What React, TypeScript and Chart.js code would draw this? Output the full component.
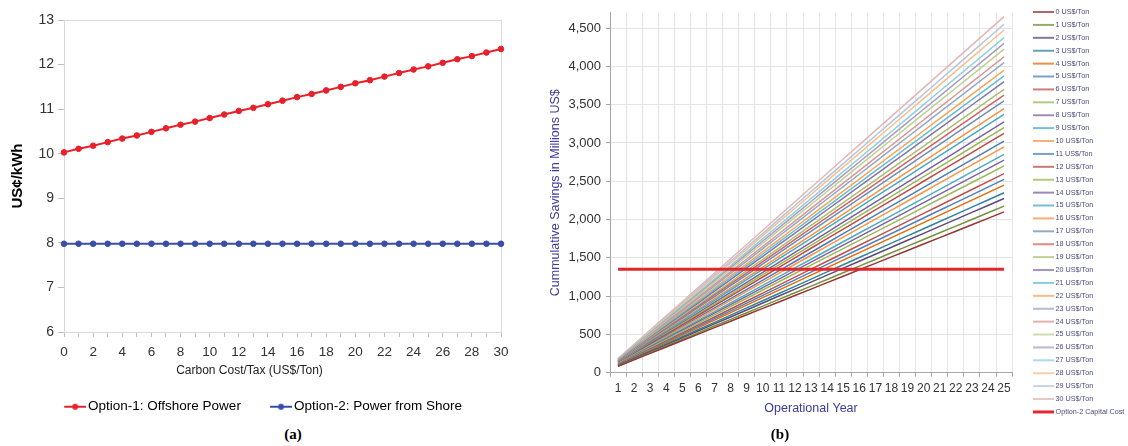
import React, { useEffect, useRef } from 'react';
import { Chart, registerables } from 'chart.js';

Chart.register(...registerables);

const FONT = "'Liberation Sans', Arial, sans-serif";

// ---------- Chart (a) data ----------
const carbonCost = ['0','1','2','3','4','5','6','7','8','9','10','11','12','13','14','15','16','17','18','19','20','21','22','23','24','25','26','27','28','29','30'];
const option1Cost = [10.03, 10.11, 10.18, 10.26, 10.34, 10.41, 10.49, 10.57, 10.65, 10.72, 10.80, 10.88, 10.96, 11.03, 11.11, 11.19, 11.27, 11.34, 11.42, 11.50, 11.58, 11.65, 11.73, 11.81, 11.89, 11.96, 12.04, 12.12, 12.19, 12.27, 12.35];
const option2Cost = [7.98, 7.98, 7.98, 7.98, 7.98, 7.98, 7.98, 7.98, 7.98, 7.98, 7.98, 7.98, 7.98, 7.98, 7.98, 7.98, 7.98, 7.98, 7.98, 7.98, 7.98, 7.98, 7.98, 7.98, 7.98, 7.98, 7.98, 7.98, 7.98, 7.98, 7.98];
const leftSeriesNames = ['Option-1: Offshore Power', 'Option-2: Power from Shore'];
const leftTicksY = [6, 13];

// ---------- Chart (b) data ----------
const years = ['1','2','3','4','5','6','7','8','9','10','11','12','13','14','15','16','17','18','19','20','21','22','23','24','25'];
const carbonLevels = ['0 US$/Ton','1 US$/Ton','2 US$/Ton','3 US$/Ton','4 US$/Ton','5 US$/Ton','6 US$/Ton','7 US$/Ton','8 US$/Ton','9 US$/Ton','10 US$/Ton','11 US$/Ton','12 US$/Ton','13 US$/Ton','14 US$/Ton','15 US$/Ton','16 US$/Ton','17 US$/Ton','18 US$/Ton','19 US$/Ton','20 US$/Ton','21 US$/Ton','22 US$/Ton','23 US$/Ton','24 US$/Ton','25 US$/Ton','26 US$/Ton','27 US$/Ton','28 US$/Ton','29 US$/Ton','30 US$/Ton'];
const savings0 = [84,168,252,336,420,504,588,672,756,840,924,1008,1092,1176,1260,1344,1428,1512,1596,1680,1764,1848,1932,2016,2100];
const savings1 = [87,174,261,348,435,522,609,696,783,870,957,1044,1131,1218,1305,1392,1479,1566,1653,1740,1827,1914,2001,2088,2175];
const savings2 = [91,182,273,364,455,546,637,728,819,910,1001,1092,1183,1274,1365,1456,1547,1638,1729,1820,1911,2002,2093,2184,2275];
const savings3 = [94,188,282,376,470,564,658,752,846,940,1034,1128,1222,1316,1410,1504,1598,1692,1786,1880,1974,2068,2162,2256,2350];
const savings4 = [98,196,294,392,490,588,686,784,882,980,1078,1176,1274,1372,1470,1568,1666,1764,1862,1960,2058,2156,2254,2352,2450];
const savings5 = [101,202,303,404,505,606,707,808,909,1010,1111,1212,1313,1414,1515,1616,1717,1818,1919,2020,2121,2222,2323,2424,2525];
const savings6 = [104,208,312,416,520,624,728,832,936,1040,1144,1248,1352,1456,1560,1664,1768,1872,1976,2080,2184,2288,2392,2496,2600];
const savings7 = [108,216,324,432,540,648,756,864,972,1080,1188,1296,1404,1512,1620,1728,1836,1944,2052,2160,2268,2376,2484,2592,2700];
const savings8 = [111,222,333,444,555,666,777,888,999,1110,1221,1332,1443,1554,1665,1776,1887,1998,2109,2220,2331,2442,2553,2664,2775];
const savings9 = [114,228,342,456,570,684,798,912,1026,1140,1254,1368,1482,1596,1710,1824,1938,2052,2166,2280,2394,2508,2622,2736,2850];
const savings10 = [118,236,354,472,590,708,826,944,1062,1180,1298,1416,1534,1652,1770,1888,2006,2124,2242,2360,2478,2596,2714,2832,2950];
const savings11 = [121,242,363,484,605,726,847,968,1089,1210,1331,1452,1573,1694,1815,1936,2057,2178,2299,2420,2541,2662,2783,2904,3025];
const savings12 = [125,250,375,500,625,750,875,1000,1125,1250,1375,1500,1625,1750,1875,2000,2125,2250,2375,2500,2625,2750,2875,3000,3125];
const savings13 = [128,256,384,512,640,768,896,1024,1152,1280,1408,1536,1664,1792,1920,2048,2176,2304,2432,2560,2688,2816,2944,3072,3200];
const savings14 = [131,262,393,524,655,786,917,1048,1179,1310,1441,1572,1703,1834,1965,2096,2227,2358,2489,2620,2751,2882,3013,3144,3275];
const savings15 = [135,270,405,540,675,810,945,1080,1215,1350,1485,1620,1755,1890,2025,2160,2295,2430,2565,2700,2835,2970,3105,3240,3375];
const savings16 = [138,276,414,552,690,828,966,1104,1242,1380,1518,1656,1794,1932,2070,2208,2346,2484,2622,2760,2898,3036,3174,3312,3450];
const savings17 = [142,284,426,568,710,852,994,1136,1278,1420,1562,1704,1846,1988,2130,2272,2414,2556,2698,2840,2982,3124,3266,3408,3550];
const savings18 = [145,290,435,580,725,870,1015,1160,1305,1450,1595,1740,1885,2030,2175,2320,2465,2610,2755,2900,3045,3190,3335,3480,3625];
const savings19 = [148,296,444,592,740,888,1036,1184,1332,1480,1628,1776,1924,2072,2220,2368,2516,2664,2812,2960,3108,3256,3404,3552,3700];
const savings20 = [152,304,456,608,760,912,1064,1216,1368,1520,1672,1824,1976,2128,2280,2432,2584,2736,2888,3040,3192,3344,3496,3648,3800];
const savings21 = [155,310,465,620,775,930,1085,1240,1395,1550,1705,1860,2015,2170,2325,2480,2635,2790,2945,3100,3255,3410,3565,3720,3875];
const savings22 = [158,316,474,632,790,948,1106,1264,1422,1580,1738,1896,2054,2212,2370,2528,2686,2844,3002,3160,3318,3476,3634,3792,3950];
const savings23 = [162,324,486,648,810,972,1134,1296,1458,1620,1782,1944,2106,2268,2430,2592,2754,2916,3078,3240,3402,3564,3726,3888,4050];
const savings24 = [165,330,495,660,825,990,1155,1320,1485,1650,1815,1980,2145,2310,2475,2640,2805,2970,3135,3300,3465,3630,3795,3960,4125];
const savings25 = [169,338,507,676,845,1014,1183,1352,1521,1690,1859,2028,2197,2366,2535,2704,2873,3042,3211,3380,3549,3718,3887,4056,4225];
const savings26 = [172,344,516,688,860,1032,1204,1376,1548,1720,1892,2064,2236,2408,2580,2752,2924,3096,3268,3440,3612,3784,3956,4128,4300];
const savings27 = [175,350,525,700,875,1050,1225,1400,1575,1750,1925,2100,2275,2450,2625,2800,2975,3150,3325,3500,3675,3850,4025,4200,4375];
const savings28 = [179,358,537,716,895,1074,1253,1432,1611,1790,1969,2148,2327,2506,2685,2864,3043,3222,3401,3580,3759,3938,4117,4296,4475];
const savings29 = [182,364,546,728,910,1092,1274,1456,1638,1820,2002,2184,2366,2548,2730,2912,3094,3276,3458,3640,3822,4004,4186,4368,4550];
const savings30 = [186,372,558,744,930,1116,1302,1488,1674,1860,2046,2232,2418,2604,2790,2976,3162,3348,3534,3720,3906,4092,4278,4464,4650];
const savingsSeries = [savings0, savings1, savings2, savings3, savings4, savings5, savings6, savings7, savings8, savings9, savings10, savings11, savings12, savings13, savings14, savings15, savings16, savings17, savings18, savings19, savings20, savings21, savings22, savings23, savings24, savings25, savings26, savings27, savings28, savings29, savings30];
const capitalCostName = 'Option-2 Capital Cost';
const capitalCost = [1350,1350,1350,1350,1350,1350,1350,1350,1350,1350,1350,1350,1350,1350,1350,1350,1350,1350,1350,1350,1350,1350,1350,1350,1350];
const rightRangeY = [0, 4700];
const rightTickValues = [0, 500, 1000, 1500, 2000, 2500, 3000, 3500, 4000, 4500];

// ---------- styles ----------
const RED = '#E8202A';
const BLUE = '#3A4DA8';
const CAP_RED = '#E3262B';
const AXIS_BLUE = '#3B3B9B';
const LEGEND_TEXT = '#4B4B7D';
const seriesColors = ['#943634','#76923C','#5F497A','#31849B','#E36C09','#4F81BD','#C0504D','#9BBB59','#8064A2','#4BACC6','#F79646','#4A7EBB','#BE4B48','#98B954','#7D60A0','#46AAC5','#F69240','#6F8DB8','#D06464','#A8C070','#8574AC','#62BED6','#F8A456','#92A9C9','#D99694','#BCD291','#AC9CC4','#90CFDF','#F9BE8C','#B3C5DE','#E3B5B4'];

function lineSymbol(width: number, from: number, height: number, color: string, lw: number, dot: boolean) {
  const c = document.createElement('canvas');
  c.width = width;
  c.height = height;
  const g = c.getContext('2d')!;
  g.strokeStyle = color;
  g.lineWidth = lw;
  g.beginPath();
  g.moveTo(from, height / 2);
  g.lineTo(width, height / 2);
  g.stroke();
  if (dot) {
    g.fillStyle = color;
    g.beginPath();
    g.arc((from + width) / 2, height / 2, 3, 0, Math.PI * 2);
    g.fill();
  }
  return c;
}

const framePlugin = {
  id: 'plotFrame',
  beforeDatasetsDraw(chart: any) {
    const { ctx, chartArea: a } = chart;
    ctx.save();
    ctx.strokeStyle = '#D9D9D9';
    ctx.lineWidth = 1;
    ctx.strokeRect(Math.round(a.left) + 0.5, Math.round(a.top) + 0.5, Math.round(a.width), Math.round(a.height));
    ctx.restore();
  },
};

export default function App() {
  const leftRef = useRef<HTMLCanvasElement>(null);
  const rightRef = useRef<HTMLCanvasElement>(null);

  useEffect(() => {
    const leftColors = [RED, BLUE];
    const leftSymbols = leftColors.map((c) => lineSymbol(46, 24, 10, c, 2, true));
    const left = new Chart(leftRef.current!, {
      type: 'line',
      data: {
        labels: carbonCost,
        datasets: [
          { label: leftSeriesNames[0], data: option1Cost, borderColor: RED, backgroundColor: RED, borderWidth: 2, pointRadius: 2.8, pointBorderWidth: 1, pointBackgroundColor: RED, pointBorderColor: RED },
          { label: leftSeriesNames[1], data: option2Cost, borderColor: BLUE, backgroundColor: BLUE, borderWidth: 2, pointRadius: 2.8, pointBorderWidth: 1, pointBackgroundColor: BLUE, pointBorderColor: BLUE },
        ],
      },
      options: {
        animation: false,
        responsive: false,
        layout: { padding: { left: 6, right: 39, top: 20, bottom: 0.5 } },
        plugins: {
          tooltip: { enabled: false },
          legend: {
            position: 'bottom',
            labels: {
              usePointStyle: true,
              pointStyleWidth: 36.25,
              padding: 10,
              color: '#111',
              font: { family: FONT, size: 13.5 },
              generateLabels: (chart: any) =>
                chart.data.datasets.map((ds: any, i: number) => ({
                  text: ds.label,
                  pointStyle: leftSymbols[i],
                  fillStyle: ds.borderColor,
                  strokeStyle: ds.borderColor,
                  lineWidth: 0,
                  hidden: !chart.isDatasetVisible(i),
                  datasetIndex: i,
                })),
            },
          },
        },
        scales: {
          x: {
            grid: { drawOnChartArea: false, drawTicks: true, tickLength: 5, color: '#BFBFBF' },
            border: { color: '#BFBFBF' },
            ticks: {
              autoSkip: false,
              maxRotation: 0,
              padding: 7,
              color: '#333',
              font: { family: FONT, size: 13.5 },
              callback: (_v: any, i: number) => (i % 2 === 0 ? carbonCost[i] : ''),
            },
            afterFit: (s: any) => { s.height = 58; },
          },
          y: {
            min: leftTicksY[0],
            max: leftTicksY[1],
            ticks: { stepSize: 1, padding: 4, color: '#333', font: { family: FONT, size: 14 } },
            grid: { drawOnChartArea: false, tickLength: 6, color: '#BFBFBF' },
            border: { color: '#BFBFBF' },
            title: { display: true, text: 'US¢/kWh', color: '#000', font: { family: FONT, size: 15, weight: 'bold' }, padding: { top: 3, bottom: 0 } },
            afterFit: (s: any) => { s.width = 58; },
          },
        },
      },
      plugins: [framePlugin],
    } as any);

    const allColors = [...seriesColors, CAP_RED];
    const rightSymbols = allColors.map((c, i) => lineSymbol(38, 17, 6, c, i === seriesColors.length ? 3 : 1.5, false));
    const datasets: any[] = savingsSeries.map((row, i) => ({
      label: carbonLevels[i],
      data: row,
      borderColor: seriesColors[i],
      backgroundColor: seriesColors[i],
      borderWidth: 1.5,
      pointRadius: 0,
      order: 1,
    }));
    datasets.push({ label: capitalCostName, data: capitalCost, borderColor: CAP_RED, backgroundColor: CAP_RED, borderWidth: 3, pointRadius: 0, order: 0 });

    const right = new Chart(rightRef.current!, {
      type: 'line',
      data: { labels: years, datasets },
      options: {
        animation: false,
        responsive: false,
        layout: { padding: { left: 0, right: 0.7, top: 2.7, bottom: 0 } },
        plugins: {
          tooltip: { enabled: false },
          title: { display: true, text: '', font: { size: 1 }, padding: { top: 8.6, bottom: 0 } },
          legend: {
            position: 'right',
            align: 'start',
            labels: {
              usePointStyle: true,
              pointStyleWidth: 34.2,
              padding: 5.7,
              color: LEGEND_TEXT,
              font: { family: FONT, size: 7.2 },
              generateLabels: (chart: any) =>
                chart.data.datasets.map((ds: any, i: number) => ({
                  text: ds.label,
                  pointStyle: rightSymbols[i],
                  fillStyle: ds.borderColor,
                  strokeStyle: ds.borderColor,
                  lineWidth: 0,
                  hidden: !chart.isDatasetVisible(i),
                  datasetIndex: i,
                  fontColor: LEGEND_TEXT,
                })),
            },
          },
        },
        scales: {
          x: {
            offset: true,
            grid: { offset: true, color: '#E4E4E4', tickColor: '#A6A6A6', tickLength: 4 },
            border: { color: '#A6A6A6' },
            ticks: { autoSkip: false, maxRotation: 0, padding: 5, color: '#333', font: { family: FONT, size: 12 } },
            title: { display: true, text: 'Operational Year', color: AXIS_BLUE, font: { family: FONT, size: 12.5 }, padding: { top: 4, bottom: 29.5 } },
            afterFit: (s: any) => { s.height = 73.3; },
          },
          y: {
            min: rightRangeY[0],
            max: rightRangeY[1],
            afterBuildTicks: (s: any) => { s.ticks = rightTickValues.map((v) => ({ value: v })); },
            ticks: {
              padding: 5,
              color: '#333',
              font: { family: FONT, size: 13 },
              callback: (v: any) => Number(v).toLocaleString('en-US'),
            },
            grid: { color: '#E4E4E4', tickColor: '#A6A6A6', tickLength: 4 },
            border: { color: '#A6A6A6' },
            title: { display: true, text: 'Cummulative Savings in Millions US$', color: AXIS_BLUE, font: { family: FONT, size: 12.5 }, padding: { top: 8.5, bottom: 0 } },
            afterFit: (s: any) => { s.width = 70; },
          },
        },
      },
    } as any);

    return () => {
      left.destroy();
      right.destroy();
    };
  }, []);

  return (
    <div style={{ position: 'fixed', left: 0, top: 0, width: 1128, height: 446, overflow: 'hidden', background: '#fff' }}>
      <canvas ref={leftRef} width={540} height={424} style={{ position: 'absolute', left: 0, top: 0, width: 540, height: 424 }} />
      <canvas ref={rightRef} width={595} height={446} style={{ position: 'absolute', left: 540, top: 0, width: 595, height: 446 }} />
      <div style={{ position: 'absolute', left: 149.5, width: 200, top: 363, textAlign: 'center', font: `12px ${FONT}`, color: '#222', whiteSpace: 'nowrap' }}>Carbon Cost/Tax (US$/Ton)</div>
      <div style={{ position: 'absolute', left: 243, width: 100, top: 426, textAlign: 'center', font: `bold 15px 'Liberation Serif', serif`, color: '#000' }}>(a)</div>
      <div style={{ position: 'absolute', left: 730, width: 100, top: 426, textAlign: 'center', font: `bold 15px 'Liberation Serif', serif`, color: '#000' }}>(b)</div>
    </div>
  );
}
